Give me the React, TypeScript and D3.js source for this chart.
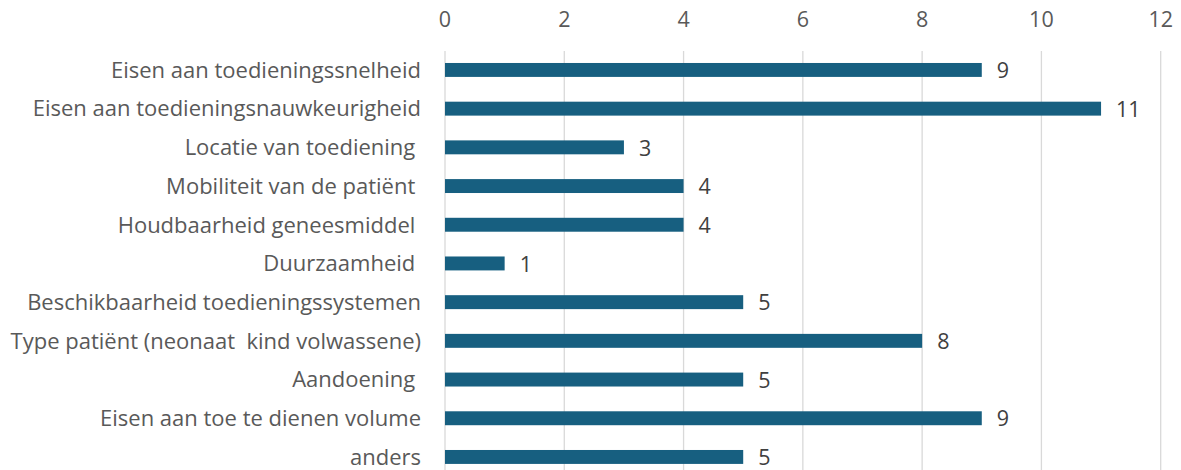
import React from "react";
import * as d3 from "d3";

const categories = [
  "Eisen aan toedieningssnelheid",
  "Eisen aan toedieningsnauwkeurigheid",
  "Locatie van toediening ",
  "Mobiliteit van de patiënt ",
  "Houdbaarheid geneesmiddel ",
  "Duurzaamheid ",
  "Beschikbaarheid toedieningssystemen",
  "Type patiënt (neonaat  kind volwassene)",
  "Aandoening ",
  "Eisen aan toe te dienen volume",
  "anders",
];
const values = [9, 11, 3, 4, 4, 1, 5, 8, 5, 9, 5];
const xTicks = [0, 2, 4, 6, 8, 10, 12];

const W = 1181;
const H = 470;
const FONT = "'Open Sans', sans-serif";
const FS = 22;
const TEXT = "#595959";
const VALUE_TEXT = "#404040";
const BAR = "#175F80";
const GRID = "#D9D9D9";

export default function App() {
  const x = d3.scaleLinear().domain([0, 12]).range([445, 1160.7]);
  const y = d3
    .scaleBand<string>()
    .domain(categories)
    .range([50.6, 50.6 + 38.7 * categories.length])
    .paddingInner(0.64)
    .paddingOuter(0.32);
  const bh = y.bandwidth();

  return (
    <svg
      width={W}
      height={H}
      style={{ position: "absolute", left: 0, top: 0, background: "#fff" }}
    >
      {xTicks.map((t) => (
        <g key={t}>
          <line x1={x(t)} x2={x(t)} y1={51} y2={H} stroke={GRID} strokeWidth={1.3} />
          <text
            x={x(t)}
            y={26.7}
            textAnchor="middle"
            fontFamily={FONT}
            fontSize={21.5}
            fill={TEXT}
          >
            {t}
          </text>
        </g>
      ))}
      {categories.map((c, i) => {
        const cy = (y(c) as number) + bh / 2;
        return (
          <g key={c}>
            <text
              x={421}
              y={cy + 7.8}
              textAnchor="end"
              fontFamily={FONT}
              fontSize={FS}
              fill={TEXT}
              style={{ whiteSpace: "pre" }}
            >
              {c}
            </text>
            <rect
              x={x(0)}
              y={y(c)}
              width={x(values[i]) - x(0)}
              height={bh}
              fill={BAR}
            />
            <text
              x={x(values[i]) + 15}
              y={cy + 8.2}
              fontFamily={FONT}
              fontSize={21.5}
              fill={VALUE_TEXT}
            >
              {values[i]}
            </text>
          </g>
        );
      })}
    </svg>
  );
}
